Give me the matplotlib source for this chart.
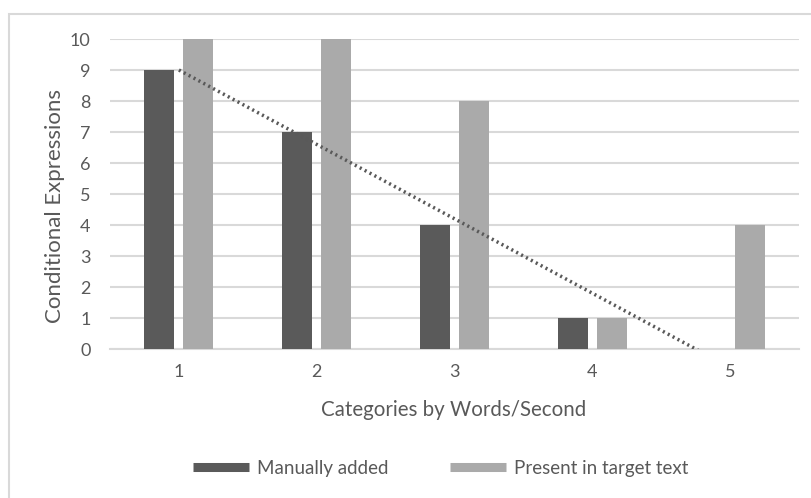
import numpy as np
import matplotlib
matplotlib.use("Agg")
import matplotlib.pyplot as plt
from matplotlib.lines import Line2D
from matplotlib.patches import Rectangle

plt.rcParams['font.family'] = ['Lato', 'DejaVu Sans']

categories = ['1', '2', '3', '4', '5']
manually_added = [9, 7, 4, 1, 0]
present_in_target = [10, 10, 8, 1, 4]
y_ticks = [0, 1, 2, 3, 4, 5, 6, 7, 8, 9, 10]

dark = '#5a5a5a'
light = '#aaaaaa'
text_col = '#595959'
grid_col = '#d9d9d9'

fig = plt.figure(figsize=(8.12, 4.98), dpi=100)
ax = fig.add_axes([110/812, 1-349/498, 689/812, 310/498])

x = np.arange(len(categories))
w = 0.218
off = 0.1415
ax.bar(x - off, manually_added, w, color=dark, zorder=3)
ax.bar(x + off, present_in_target, w, color=light, zorder=3)

# linear trendline for the manual series (clipped at the axis floor)
k, b = np.polyfit(x, manually_added, 1)
tx = np.array([x[0], x[-1]])
ax.plot(tx, k*tx + b, linestyle=(0, (0.6, 1.0)), color=text_col, lw=2.5, zorder=4)

ax.set_xlim(-0.5, len(categories) - 0.5)
ax.set_ylim(0, 10)
ax.set_yticks(y_ticks)
ax.set_xticks(x)
ax.set_xticklabels(categories)
ax.grid(axis='y', color=grid_col, lw=1.5, zorder=0)
ax.set_axisbelow(True)
for s in ['top', 'right', 'left']:
    ax.spines[s].set_visible(False)
ax.spines['bottom'].set_color(grid_col)
ax.spines['bottom'].set_linewidth(1.5)
ax.tick_params(axis='both', length=0, labelsize=13, labelcolor=text_col)
ax.tick_params(axis='y', pad=14)
ax.tick_params(axis='x', pad=11)

fig.text(55/812, 1-206/498, 'Conditional Expressions', fontsize=16, rotation=90,
         color=text_col, ha='center', va='center')
fig.text(454/812, 1-410/498, 'Categories by Words/Second', fontsize=14.8,
         color=text_col, ha='center', va='center')

handles = [Line2D([], [], color=dark, lw=6.5, solid_capstyle='butt'),
           Line2D([], [], color=light, lw=6.5, solid_capstyle='butt')]
fig.legend(handles, ['Manually added', 'Present in target text'],
           loc='center', bbox_to_anchor=(441/812, 1-468/498), ncol=2,
           frameon=False, fontsize=13.5, labelcolor=text_col,
           handlelength=2.95, handletextpad=0.45, columnspacing=3.3)

# chart frame
fig.patches.append(Rectangle((9/812, -0.1), 1.1, 1.1 - 14/498,
                             transform=fig.transFigure, fill=False,
                             edgecolor=grid_col, lw=1.5))

fig.savefig('out.png', dpi=100)
